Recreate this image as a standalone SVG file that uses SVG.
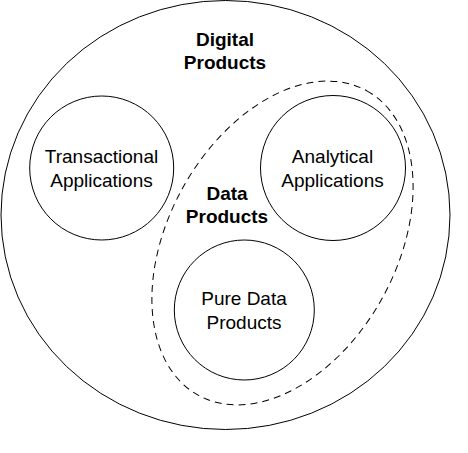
<svg xmlns="http://www.w3.org/2000/svg" width="468" height="453" viewBox="0 0 468 453">
  <style>
    .shape { fill: #ffffff; stroke: #000000; stroke-width: 1; }
    .dashed { fill: none; stroke: #000000; stroke-width: 1; stroke-dasharray: 7 5; }
    .label { font-family: "Liberation Sans", Arial, sans-serif; font-size: 19px; fill: #000000; text-anchor: middle; }
    .bold { font-weight: bold; }
  </style>
  <rect x="0" y="0" width="468" height="453" fill="#ffffff"/>
  <g id="digital-products">
    <ellipse class="shape" cx="225.5" cy="215" rx="224.5" ry="214.5"/>
    <text class="label bold" x="225" y="46">Digital</text>
    <text class="label bold" x="225" y="69">Products</text>
  </g>
  <g id="data-products">
    <ellipse class="dashed" cx="282.5" cy="243" rx="174" ry="114" transform="rotate(-61 282.5 243)"/>
    <text class="label bold" x="227" y="200">Data</text>
    <text class="label bold" x="227" y="223">Products</text>
  </g>
  <g id="transactional-applications">
    <circle class="shape" cx="101.7" cy="168" r="72"/>
    <text class="label" x="101.5" y="163">Transactional</text>
    <text class="label" x="101.5" y="187">Applications</text>
  </g>
  <g id="analytical-applications">
    <circle class="shape" cx="333" cy="168" r="72.5"/>
    <text class="label" x="332.5" y="163">Analytical</text>
    <text class="label" x="332.5" y="187">Applications</text>
  </g>
  <g id="pure-data-products">
    <circle class="shape" cx="244.3" cy="310" r="70"/>
    <text class="label" x="244" y="305">Pure Data</text>
    <text class="label" x="244" y="329">Products</text>
  </g>
  <g id="connectors"/>
</svg>
